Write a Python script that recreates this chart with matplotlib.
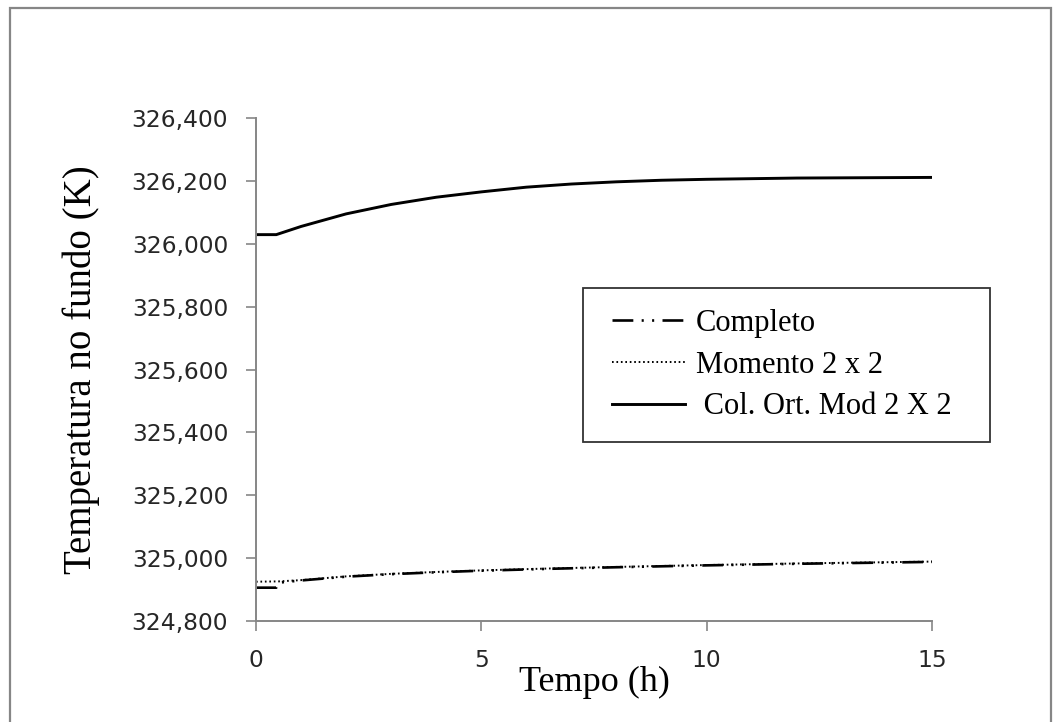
import matplotlib
matplotlib.use("Agg")
import matplotlib.pyplot as plt
from matplotlib.patches import Rectangle
from matplotlib.ticker import FuncFormatter, MultipleLocator
from matplotlib.legend_handler import HandlerLine2D

# Dados
tempo_completo = [0.0, 0.45, 0.5, 1.0, 2.0, 3.0, 4.0, 5.0, 6.5, 8.0, 10.0, 12.0, 15.0]
temp_completo = [324906, 324906, 324922, 324929, 324941, 324949, 324955, 324960, 324966,
                 324971, 324977, 324982, 324988]

tempo_momento = [0.0, 0.5, 1.0, 2.0, 3.0, 4.0, 5.0, 6.5, 8.0, 10.0, 12.0, 15.0]
temp_momento = [324925, 324926, 324930, 324942, 324950, 324956, 324961, 324967,
                324972, 324978, 324983, 324989]

tempo_col = [0.0, 0.45, 1.0, 1.5, 2.0, 3.0, 4.0, 5.0, 6.0, 7.0, 8.0, 9.0, 10.0, 12.0, 15.0]
temp_col = [326029, 326029, 326055, 326075, 326095, 326125, 326148, 326165, 326180,
            326190, 326197, 326202, 326205, 326209, 326211]

rotulos = ["Completo", "Momento 2 x 2", " Col. Ort. Mod 2 X 2"]

plt.rcParams["lines.scale_dashes"] = False
SERIF = "Liberation Serif"
CINZA = "#868686"

fig = plt.figure(figsize=(10.59, 7.22), dpi=100)
fig.patches.append(Rectangle((10 / 1059, -0.05), 1041 / 1059, 1.05 - 8 / 722,
                             transform=fig.transFigure, fill=False,
                             edgecolor=CINZA, linewidth=1.6))

ax = fig.add_axes([256 / 1059, 1 - 621 / 722, 676 / 1059, 503 / 722])

ax.plot(tempo_completo, temp_completo, color="black", linewidth=1.9,
        linestyle=(0, (15, 6, 1.5, 6, 1.5, 6)), label=rotulos[0])
ax.plot(tempo_momento, temp_momento, color="black", linewidth=1.4,
        linestyle=(0, (1.2, 2)), label=rotulos[1])
ax.plot(tempo_col, temp_col, color="black", linewidth=2.1, label=rotulos[2])

ax.set_xlim(0, 15)
ax.set_ylim(324800, 326400)
ax.xaxis.set_major_locator(MultipleLocator(5))
ax.yaxis.set_major_locator(MultipleLocator(200))
ax.yaxis.set_major_formatter(FuncFormatter(lambda v, p: f"{v / 1000:.3f}".replace(".", ",")))

for lado in ("top", "right"):
    ax.spines[lado].set_visible(False)
for lado in ("left", "bottom"):
    ax.spines[lado].set_color(CINZA)
    ax.spines[lado].set_linewidth(1.4)

ax.tick_params(axis="both", direction="out", length=7.5, width=1.2, color=CINZA,
               labelsize=16.8, labelcolor="#262626")
ax.tick_params(axis="y", pad=12.5)
ax.tick_params(axis="x", pad=12.5)

ax.set_xlabel("Tempo (h)", family=SERIF, fontsize=26, labelpad=-4)
ax.set_ylabel("Temperatura no fundo (K)", family=SERIF, fontsize=28, labelpad=23)

# legenda com folga à esquerda do traço, como no original
handler = HandlerLine2D(xpad=0.26)
leg = ax.legend(loc="upper left", bbox_to_anchor=(0.4837, 0.5, 407 / 676, 0.162),
                mode="expand", borderaxespad=0,
                prop={"family": SERIF, "size": 22}, frameon=True, fancybox=False,
                handlelength=2.65, handletextpad=0.36, labelspacing=0.42,
                borderpad=0.68,
                handler_map={l: handler for l in ax.get_lines()})
leg.get_frame().set_edgecolor("black")
leg.get_frame().set_linewidth(1.3)

fig.savefig("out.png", dpi=100)
